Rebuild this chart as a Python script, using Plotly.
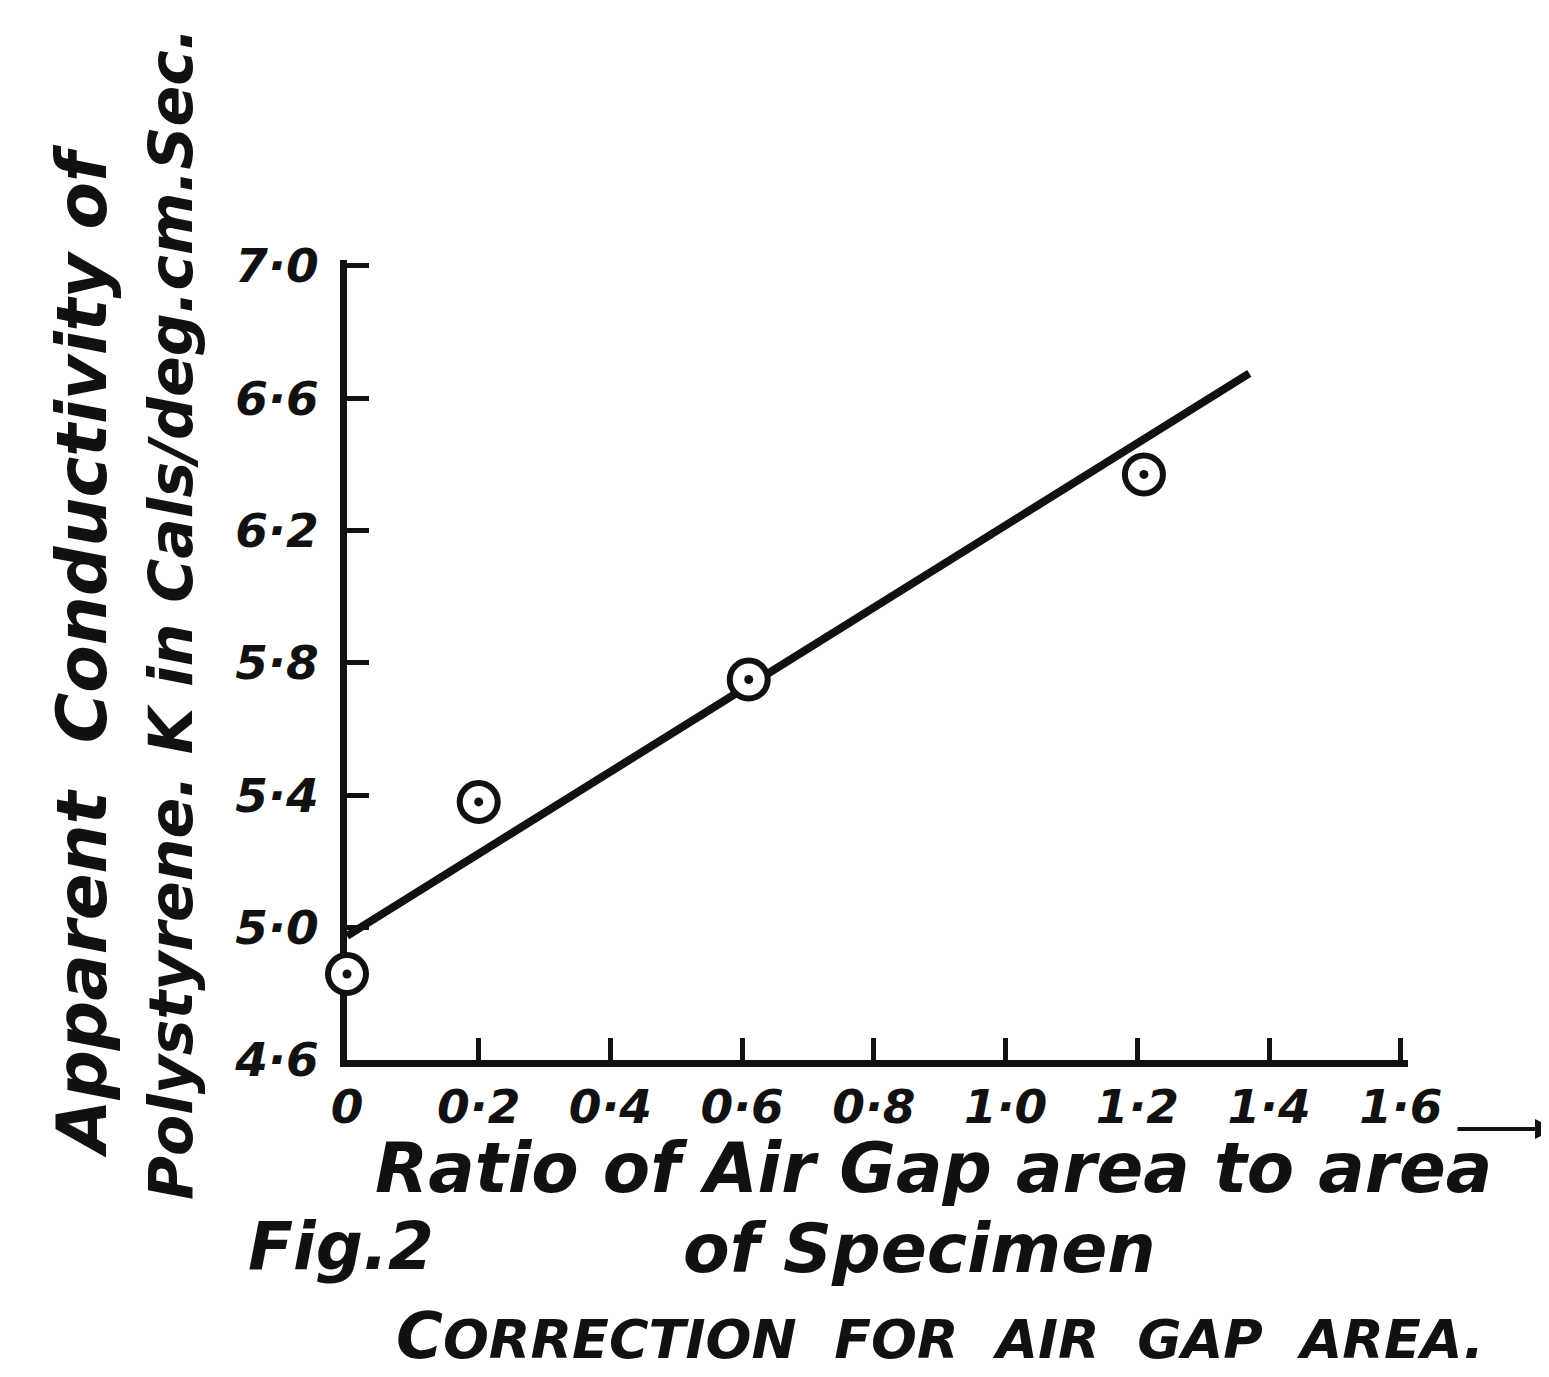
import plotly.graph_objects as go

# ---- data ----
ratio = [0.0, 0.2, 0.61, 1.21]                 # ratio of air gap area to specimen area
conductivity = [4.86, 5.38, 5.75, 6.37]        # apparent conductivity K
fit_x = [0.0, 1.37]
fit_y = [4.975, 6.675]

x_ticks = [0, 0.2, 0.4, 0.6, 0.8, 1.0, 1.2, 1.4, 1.6]
x_ticktext = ["0", "0·2", "0·4", "0·6", "0·8", "1·0", "1·2", "1·4", "1·6"]
y_ticks = [4.6, 5.0, 5.4, 5.8, 6.2, 6.6, 7.0]
y_ticktext = ["4·6", "5·0", "5·4", "5·8", "6·2", "6·6", "7·0"]

y_title_1 = "Apparent  Conductivity of"
y_title_2 = "Polystyrene. K in Cals/deg.cm.Sec."
x_title_1 = "Ratio of Air Gap area to area"
x_title_2 = "of Specimen"
fig_label = "Fig.2"
caption = ("<span style='font-size:64px'>C</span>ORRECTION  "
           "FOR  AIR  GAP  AREA.")

W, H = 1549, 1377
L, R, T, B = 339, 1400, 252, 1052  # plot area in pixels (includes a small pad past 1.6 / 7.0)

def px(xp):
    return (xp - L) / (R - L)

def py(yp):
    return (B - yp) / (B - T)

FONT = "DejaVu Sans"
ink = "#111111"

fig = go.Figure()
fig.add_trace(go.Scatter(x=fit_x, y=fit_y, mode="lines",
                         line=dict(color=ink, width=8), showlegend=False,
                         cliponaxis=False))
fig.add_trace(go.Scatter(x=ratio, y=conductivity, mode="markers",
                         marker=dict(symbol="circle", size=38, color="white",
                                     line=dict(color=ink, width=6)),
                         showlegend=False, cliponaxis=False))
fig.add_trace(go.Scatter(x=ratio, y=conductivity, mode="markers",
                         marker=dict(symbol="circle", size=9, color=ink),
                         showlegend=False, cliponaxis=False))

tickfont = dict(family=FONT, size=47, color=ink, style="italic", weight="bold")

# ranges padded slightly so the end ticks at 1.6 and 7.0 are drawn
fig.update_xaxes(range=[0, 1.611], tickvals=x_ticks, ticktext=x_ticktext,
                 showgrid=False, zeroline=False, showline=True, linecolor=ink,
                 linewidth=7, ticks="inside", ticklen=22, tickwidth=5,
                 tickcolor=ink, tickfont=tickfont, ticklabelstandoff=0,
                 layer="below traces")
fig.update_yaxes(range=[4.6, 7.018], tickvals=y_ticks, ticktext=y_ticktext,
                 showgrid=False, zeroline=False, showline=True, linecolor=ink,
                 linewidth=7, ticks="inside", ticklen=22, tickwidth=5,
                 tickcolor=ink, tickfont=tickfont, ticklabelstandoff=12,
                 layer="below traces")

def txt(text, xp, yp, size, angle=0):
    fig.add_annotation(text=text, xref="paper", yref="paper", x=px(xp), y=py(yp),
                       xanchor="center", yanchor="middle", showarrow=False,
                       textangle=angle,
                       font=dict(family=FONT, size=size, color=ink,
                                 style="italic", weight="bold"))

txt(y_title_1, 74, 643, 69, -90)
txt(y_title_2, 163, 606, 60, -90)
txt(x_title_1, 925, 1160, 69)
txt(x_title_2, 911, 1240, 68)
txt(fig_label, 333, 1238, 66)
txt(caption, 932, 1328, 54)

# arrow after the x tick labels
fig.add_annotation(xref="paper", yref="paper", x=px(1547), y=py(1121),
                   ax=-99, ay=0, axref="pixel", ayref="pixel",
                   showarrow=True, arrowhead=2, arrowsize=1.0, arrowwidth=4,
                   arrowcolor=ink, text="")

fig.update_layout(width=W, height=H, autosize=False,
                  margin=dict(l=L, r=W - R, t=T, b=H - B),
                  paper_bgcolor="white", plot_bgcolor="white",
                  showlegend=False)

fig.write_html("out.html")
